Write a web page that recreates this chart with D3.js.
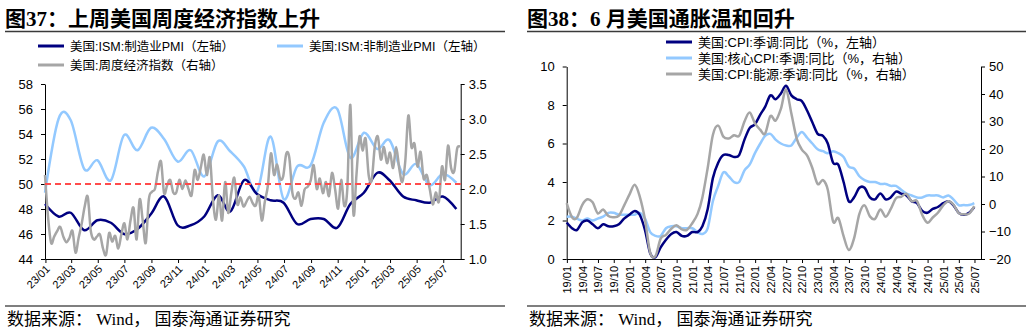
<!DOCTYPE html>
<html>
<head>
<meta charset="utf-8">
<script src="https://cdn.jsdelivr.net/npm/d3@7"></script>
<style>
  body { margin: 0; background: #fff; }
  text { font-family: "Liberation Sans", Arial, "Noto Sans CJK SC", sans-serif; fill: #000; }
  .title { font-family: "Liberation Serif", "Noto Sans CJK SC", serif; font-weight: bold; font-size: 21px; }
  .source { font-family: "Liberation Serif", "Noto Sans CJK SC", serif; font-size: 17px; }
  .legend { font-family: "Liberation Sans", "Noto Sans CJK SC", sans-serif; font-size: 12.5px; }
  .legend.wide { font-size: 13px; }
  .axis path, .axis line { stroke: #000; }
  .axis text { font-size: 13px; }
  .xaxis text { font-size: 11px; }
</style>
</head>
<body>
<svg id="fig" width="1032" height="331"></svg>
<script>
// ---- ISM PMI (monthly, month-end) and weekly economic index ----
var ismMonths = ["2022-12",
  "2023-01","2023-02","2023-03","2023-04","2023-05","2023-06","2023-07","2023-08","2023-09","2023-10","2023-11","2023-12",
  "2024-01","2024-02","2024-03","2024-04","2024-05","2024-06","2024-07","2024-08","2024-09","2024-10","2024-11","2024-12",
  "2025-01","2025-02","2025-03","2025-04","2025-05","2025-06","2025-07"];
var ismMfg = [48.4,
  47.4,47.7,46.3,47.1,46.9,46.0,46.4,47.6,49.0,46.7,46.7,47.4,
  49.1,47.8,50.3,49.2,48.7,48.5,46.8,47.2,47.2,46.5,48.4,49.3,
  50.9,50.3,49.0,48.7,48.5,49.0,48.0];
var ismNonMfg = [49.3,
  55.2,55.1,51.2,51.9,50.3,53.9,52.7,54.5,53.6,51.8,52.7,50.6,
  53.4,52.6,51.4,49.4,53.8,48.8,51.4,51.5,54.9,56.0,52.1,54.1,
  52.8,53.5,50.8,51.6,49.9,50.8,50.1];

// weekly index, first week ending 2022-12-31
var weiStart = "2022-12-31";
var weiValues = [
  2.20,1.60,1.23,1.32,1.40,1.46,1.32,1.24,1.30,1.40,
  1.09,1.30,1.50,1.75,1.89,1.40,1.28,1.32,1.35,1.15,
  1.06,1.37,1.25,1.33,1.15,1.35,1.51,1.28,1.55,1.73,
  1.28,1.85,1.55,1.23,1.85,1.96,2.00,2.25,2.39,1.94,
  2.05,2.13,1.95,1.95,2.13,2.00,2.12,2.00,1.91,2.27,
  2.13,2.30,2.49,2.20,2.45,1.85,1.56,1.91,1.55,2.10,
  1.66,1.94,2.16,1.78,1.88,1.75,1.82,1.89,1.80,1.76,
  1.90,1.55,1.82,2.05,2.51,2.20,2.35,2.15,2.18,2.50,
  2.45,1.95,1.86,1.95,1.76,1.99,2.03,2.12,2.34,2.00,
  2.15,1.94,2.10,1.90,2.23,2.00,1.72,2.13,1.76,2.00,
  3.20,1.65,2.20,2.75,2.55,2.72,2.20,2.13,2.60,2.75,
  2.42,2.60,2.37,2.52,2.30,2.60,2.30,2.10,2.40,3.05,
  2.60,2.65,2.32,2.53,2.15,2.20,2.00,1.78,1.95,1.82,
  2.32,2.13,2.62,2.30,2.25,2.58,2.60];

var ismTicks = ["23/01","23/03","23/05","23/07","23/09","23/11","24/01","24/03",
  "24/05","24/07","24/09","24/11","25/01","25/03","25/05","25/07"];
var ismLeftTicks = [44,46,48,50,52,54,56,58];
var ismRightTicks = [1.0,1.5,2.0,2.5,3.0,3.5];

// ---- US CPI yoy (monthly, month-end) ----
var cpiMonths = ["2018-12",
  "2019-01","2019-02","2019-03","2019-04","2019-05","2019-06","2019-07","2019-08","2019-09","2019-10","2019-11","2019-12",
  "2020-01","2020-02","2020-03","2020-04","2020-05","2020-06","2020-07","2020-08","2020-09","2020-10","2020-11","2020-12",
  "2021-01","2021-02","2021-03","2021-04","2021-05","2021-06","2021-07","2021-08","2021-09","2021-10","2021-11","2021-12",
  "2022-01","2022-02","2022-03","2022-04","2022-05","2022-06","2022-07","2022-08","2022-09","2022-10","2022-11","2022-12",
  "2023-01","2023-02","2023-03","2023-04","2023-05","2023-06","2023-07","2023-08","2023-09","2023-10","2023-11","2023-12",
  "2024-01","2024-02","2024-03","2024-04","2024-05","2024-06","2024-07","2024-08","2024-09","2024-10","2024-11","2024-12",
  "2025-01","2025-02","2025-03","2025-04","2025-05","2025-06"];
var cpiHeadline = [1.9,
  1.6,1.5,1.9,2.0,1.8,1.6,1.8,1.7,1.7,1.8,2.1,2.3,
  2.5,2.3,1.5,0.3,0.1,0.6,1.0,1.3,1.4,1.2,1.2,1.4,
  1.4,1.7,2.6,4.2,5.0,5.4,5.4,5.3,5.4,6.2,6.8,7.0,
  7.5,7.9,8.5,8.3,8.6,9.0,8.5,8.3,8.2,7.7,7.1,6.5,
  6.4,6.0,5.0,4.9,4.0,3.0,3.2,3.7,3.7,3.2,3.1,3.4,
  3.1,3.2,3.5,3.4,3.3,3.0,2.9,2.5,2.4,2.6,2.7,2.9,
  3.0,2.8,2.4,2.3,2.4,2.7];
var cpiCore = [2.2,
  2.2,2.1,2.0,2.1,2.0,2.1,2.2,2.4,2.4,2.3,2.3,2.3,
  2.3,2.4,2.1,1.4,1.2,1.2,1.6,1.7,1.7,1.6,1.6,1.6,
  1.4,1.3,1.6,3.0,3.8,4.5,4.3,4.0,4.0,4.6,4.9,5.5,
  6.0,6.4,6.5,6.2,6.0,5.9,5.9,6.3,6.6,6.3,6.0,5.7,
  5.6,5.5,5.6,5.5,5.3,4.8,4.7,4.3,4.1,4.0,4.0,3.9,
  3.9,3.8,3.8,3.6,3.4,3.3,3.2,3.2,3.3,3.3,3.3,3.2,
  3.3,3.1,2.8,2.8,2.8,2.9];
var cpiEnergy = [0.3,
  -4.8,-5.0,-0.4,1.7,0.6,-3.4,-2.0,-4.4,-4.8,-4.2,-0.6,3.4,
  7.0,2.8,-5.7,-17.7,-18.9,-12.6,-11.2,-9.0,-7.7,-9.2,-9.4,-7.0,
  -3.6,2.4,13.2,25.1,28.5,24.5,23.8,25.0,24.8,30.0,33.3,29.3,
  27.0,25.6,32.0,30.3,34.6,41.6,32.9,23.8,19.8,17.6,13.1,7.3,
  8.7,5.2,-6.4,-5.1,-11.7,-16.7,-12.5,-3.6,-0.5,-4.5,-5.4,-2.0,
  -4.6,-1.9,2.1,2.6,3.7,1.0,1.1,-4.0,-6.8,-4.9,-3.2,-0.5,
  1.0,-0.2,-3.3,-3.7,-3.5,-0.8];

var cpiTicks = ["19/01","19/04","19/07","19/10","20/01","20/04","20/07","20/10",
  "21/01","21/04","21/07","21/10","22/01","22/04","22/07","22/10",
  "23/01","23/04","23/07","23/10","24/01","24/04","24/07","24/10",
  "25/01","25/04","25/07"];
var cpiLeftTicks = [0,2,4,6,8,10];
var cpiRightTicks = [-20,-10,0,10,20,30,40,50];

var NAVY = "#000080", SKY = "#93C9FF", GREY = "#A6A6A6", RED = "#FF4B4B";

var parseMonth = d3.timeParse("%Y-%m");
var parseTick = d3.timeParse("%y/%m");
function monthEnd(s) {
  return d3.timeDay.offset(d3.timeMonth.offset(parseMonth(s), 1), -1);
}
var smooth = d3.curveCardinal.tension(0);

var svg = d3.select("#fig");

function header(x0, x1, title) {
  svg.append("text").attr("class", "title").attr("x", x0).attr("y", 26).text(title);
  svg.append("line").attr("x1", x0).attr("x2", x1).attr("y1", 31.5).attr("y2", 31.5)
    .attr("stroke", "#3a3a3a").attr("stroke-width", 1.5);
  svg.append("line").attr("x1", x0).attr("x2", x1).attr("y1", 306).attr("y2", 306)
    .attr("stroke", "#555").attr("stroke-width", 1.5);
  svg.append("text").attr("class", "source").attr("x", x0 + 2).attr("y", 325)
    .text("数据来源： Wind， 国泰海通证券研究");
}

function legendItem(x, y, color, label, cls) {
  svg.append("line").attr("x1", x).attr("x2", x + 26).attr("y1", y).attr("y2", y)
    .attr("stroke", color).attr("stroke-width", 3);
  svg.append("text").attr("class", "legend " + (cls || "")).attr("x", x + 32).attr("y", y + 4.5).text(label);
}

function drawLine(g, data, x, y, color) {
  g.append("path")
    .datum(data)
    .attr("fill", "none")
    .attr("stroke", color)
    .attr("stroke-width", 2.5)
    .attr("stroke-linejoin", "round")
    .attr("d", d3.line().x(function(d) { return x(d[0]); }).y(function(d) { return y(d[1]); }).curve(smooth));
}

// ================= left panel =================
header(5, 505, "图37：上周美国周度经济指数上升");
legendItem(38, 46, NAVY, "美国:ISM:制造业PMI（左轴）");
legendItem(277, 46, SKY, "美国:ISM:非制造业PMI（左轴）");
legendItem(38, 65, GREY, "美国:周度经济指数（右轴）");

var x1 = d3.scaleTime().domain([new Date(2022, 11, 31), new Date(2025, 7, 10)]).range([45, 460.7]);
var y1 = d3.scaleLinear().domain([44, 58]).range([259, 84]);
var y1r = d3.scaleLinear().domain([1, 3.5]).range([259, 84]);

var g1 = svg.append("g");

g1.append("g").attr("class", "axis").attr("transform", "translate(45,0)")
  .call(d3.axisLeft(y1).tickValues(ismLeftTicks).tickSize(4).tickPadding(8).tickSizeOuter(0));
g1.append("g").attr("class", "axis").attr("transform", "translate(460.7,0)")
  .call(d3.axisRight(y1r).tickValues(ismRightTicks).tickFormat(d3.format(".1f")).tickSize(4).tickPadding(4).tickSizeOuter(0));
var xa1 = g1.append("g").attr("class", "axis xaxis").attr("transform", "translate(0,259)")
  .call(d3.axisBottom(x1).tickValues(ismTicks.map(parseTick)).tickSize(4).tickSizeOuter(0)
    .tickFormat(function(d, i) { return ismTicks[i]; }));
xa1.selectAll("text")
  .attr("x", 0).attr("y", 0).attr("dy", "0.35em")
  .attr("text-anchor", "end")
  .attr("transform", "translate(2,8) rotate(-45)");

var mfg = ismMonths.map(function(m, i) { return [monthEnd(m), ismMfg[i]]; });
var nonMfg = ismMonths.map(function(m, i) { return [monthEnd(m), ismNonMfg[i]]; });
var wStart = d3.timeParse("%Y-%m-%d")(weiStart);
var wei = weiValues.map(function(v, i) { return [d3.timeDay.offset(wStart, 7 * i), v]; });

drawLine(g1, nonMfg, x1, y1, SKY);
drawLine(g1, mfg, x1, y1, NAVY);
drawLine(g1, wei, x1, y1r, GREY);

// 50 line
g1.append("line")
  .attr("x1", 45).attr("x2", 460.7).attr("y1", y1(50)).attr("y2", y1(50))
  .attr("stroke", RED).attr("stroke-width", 2).attr("stroke-dasharray", "6,4");

// ================= right panel =================
header(527, 1026, "图38：6 月美国通胀温和回升");

var x2 = d3.scaleTime().domain([new Date(2018, 11, 31), new Date(2025, 7, 8)]).range([566.7, 981]);
var y2 = d3.scaleLinear().domain([0, 10]).range([259, 66.5]);
var y2r = d3.scaleLinear().domain([-20, 50]).range([259, 66.5]);

var g2 = svg.append("g");

g2.append("g").attr("class", "axis").attr("transform", "translate(566.7,0)")
  .call(d3.axisLeft(y2).tickValues(cpiLeftTicks).tickSize(4).tickPadding(8).tickSizeOuter(0));
g2.append("g").attr("class", "axis").attr("transform", "translate(981,0)")
  .call(d3.axisRight(y2r).tickValues(cpiRightTicks).tickSize(4).tickPadding(4).tickSizeOuter(0));
var xa2 = g2.append("g").attr("class", "axis xaxis").attr("transform", "translate(0,259)")
  .call(d3.axisBottom(x2).tickValues(cpiTicks.map(parseTick)).tickSize(4).tickSizeOuter(0)
    .tickFormat(function(d, i) { return cpiTicks[i]; }));
xa2.selectAll("text")
  .attr("x", 0).attr("y", 0).attr("dy", "0.35em")
  .attr("text-anchor", "end")
  .attr("transform", "translate(0,7) rotate(-90)");

var head = cpiMonths.map(function(m, i) { return [monthEnd(m), cpiHeadline[i]]; });
var core = cpiMonths.map(function(m, i) { return [monthEnd(m), cpiCore[i]]; });
var energy = cpiMonths.map(function(m, i) { return [monthEnd(m), cpiEnergy[i]]; });

drawLine(g2, core, x2, y2, SKY);
drawLine(g2, head, x2, y2, NAVY);
drawLine(g2, energy, x2, y2r, GREY);

legendItem(666, 42, NAVY, "美国:CPI:季调:同比（%，左轴）", "wide");
legendItem(666, 58, SKY, "美国:核心CPI:季调:同比（%，右轴）", "wide");
legendItem(666, 74, GREY, "美国:CPI:能源:季调:同比（%，右轴）", "wide");
</script>
</body>
</html>
